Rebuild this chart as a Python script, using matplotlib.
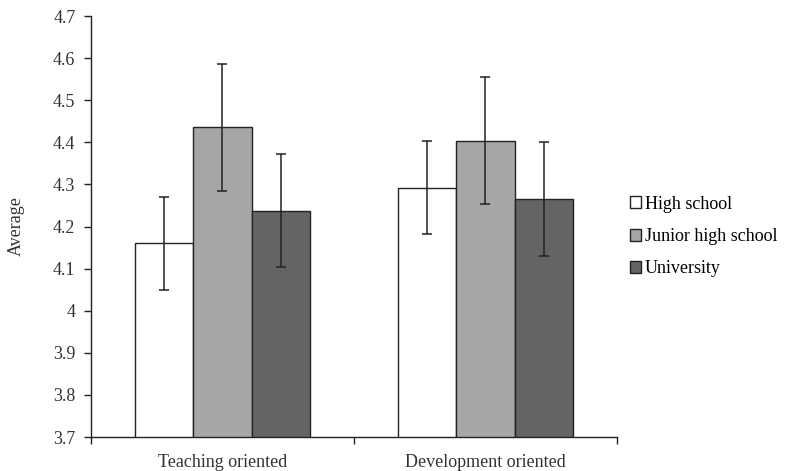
import matplotlib
matplotlib.use("Agg")
import matplotlib.pyplot as plt
import numpy as np
from matplotlib.patches import Patch

categories = ["Teaching oriented", "Development oriented"]
series = ["High school", "Junior high school", "University"]
high_school = [4.16, 4.292]
junior_high = [4.436, 4.404]
university = [4.238, 4.266]
err_high = [0.11, 0.11]
err_junior = [0.151, 0.151]
err_univ = [0.135, 0.135]
colors = ["#ffffff", "#a6a6a8", "#646466"]
yticks = [3.7, 3.8, 3.9, 4.0, 4.1, 4.2, 4.3, 4.4, 4.5, 4.6, 4.7]
ytick_labels = ["3.7", "3.8", "3.9", "4", "4.1", "4.2", "4.3", "4.4", "4.5", "4.6", "4.7"]

plt.rcParams['font.family'] = ['Liberation Serif', 'DejaVu Serif']
fs = 13

fig = plt.figure(figsize=(7.89, 4.71), dpi=100)
ax = fig.add_axes([0.115, 0.072, 0.667, 0.894])

x = np.arange(len(categories))
width = 0.222
vals = [high_school, junior_high, university]
errs = [err_high, err_junior, err_univ]
for i, (v, e, c) in enumerate(zip(vals, errs, colors)):
    ax.bar(x + (i - 1) * width, v, width, color=c, edgecolor="#222222", linewidth=1.0,
           yerr=e, error_kw=dict(ecolor="#222222", elinewidth=1.1, capsize=3.5, capthick=1.1),
           zorder=2, label=series[i])

ax.set_ylim(3.7, 4.7)
ax.set_xlim(-0.5, 1.5)
ax.set_yticks(yticks)
ax.set_yticklabels(ytick_labels, fontsize=fs, color="#333333")
ax.set_xticks(x)
ax.set_xticklabels(categories, fontsize=fs, color="#333333")
ax.tick_params(axis='x', length=0, pad=12)
# category boundary ticks
ax.set_xticks([-0.5, 0.5, 1.5], minor=True)
ax.tick_params(axis='x', which='minor', length=5, width=1.0, direction='out', color="#222222")
ax.tick_params(axis='y', length=5, width=1.0, direction='out', color="#222222", pad=6)
for s in ["top", "right"]:
    ax.spines[s].set_visible(False)
for s in ["left", "bottom"]:
    ax.spines[s].set_linewidth(1.0)
    ax.spines[s].set_color("#222222")
ax.set_ylabel("Average", fontsize=fs, color="#333333", labelpad=20)

handles = [Patch(facecolor=c, edgecolor="#222222", linewidth=1.0) for c in colors]
fig.legend(handles, series, loc="center left", bbox_to_anchor=(0.789, 0.498),
           frameon=False, fontsize=fs, handlelength=0.65, handleheight=0.65,
           handletextpad=0.2, labelspacing=0.85, borderaxespad=0)

fig.savefig("out.png", dpi=100)
